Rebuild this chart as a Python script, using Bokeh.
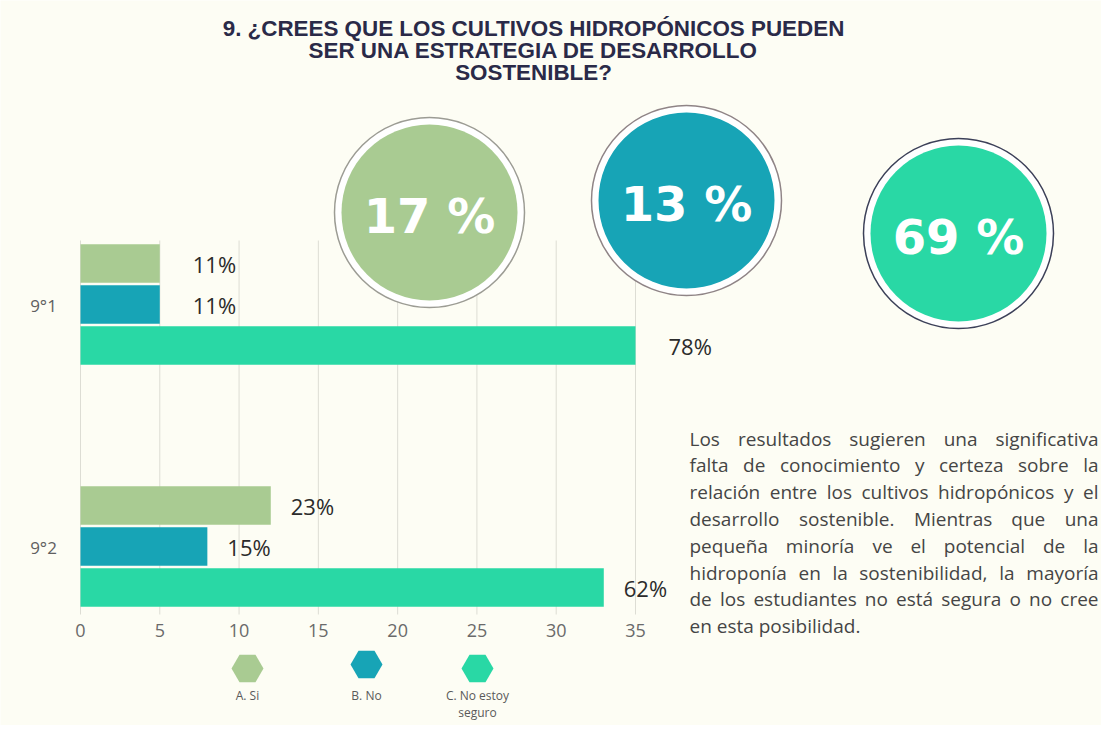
from bokeh.plotting import figure
from bokeh.models import Range1d, LinearAxis, FixedTicker, ColumnDataSource
from bokeh.core.properties import value
from bokeh.embed import file_html
from bokeh.resources import INLINE

# ---------------- data ----------------
groups = ["9°1", "9°2"]
series = ["A. Si", "B. No", "C. No estoy\nseguro"]
si_counts = [5, 12]
no_counts = [5, 8]
unsure_counts = [35, 33]
si_labels = ["11%", "23%"]
no_labels = ["11%", "15%"]
unsure_labels = ["78%", "62%"]
overall_pct = [17, 13, 69]
x_ticks = [0, 5, 10, 15, 20, 25, 30, 35]
title_lines = [
    "9. ¿CREES QUE LOS CULTIVOS HIDROPÓNICOS PUEDEN",
    "SER UNA ESTRATEGIA DE DESARROLLO",
    "SOSTENIBLE?",
]
paragraph_lines = [
    "Los resultados sugieren una significativa",
    "falta de conocimiento y certeza sobre la",
    "relación entre los cultivos hidropónicos y el",
    "desarrollo sostenible. Mientras que una",
    "pequeña minoría ve el potencial de la",
    "hidroponía en la sostenibilidad, la mayoría",
    "de los estudiantes no está segura o no cree",
    "en esta posibilidad.",
]

# ---------------- style ----------------
colors = ["#A9CB92", "#17A4B6", "#29D8A5"]
bg = "#FDFDF4"
W, H = 1101, 725

p = figure(width=W, height=H, x_range=Range1d(0, W), y_range=Range1d(H, 0),
           output_backend="svg", toolbar_location=None, min_border=0,
           x_axis_type=None, y_axis_type=None,
           background_fill_color=bg, border_fill_color=bg, outline_line_color=None)

# value scale for the bars: 0 -> 80px, 35 -> 635px
px0, px35 = 80.0, 635.0
k = (px35 - px0) / 35.0
p.extra_x_ranges = {"val": Range1d(-px0 / k, (W - px0) / k)}

chart_top, chart_bottom = 240, 614
p.segment(x0=x_ticks, y0=[chart_top] * len(x_ticks), x1=x_ticks, y1=[chart_bottom] * len(x_ticks),
          x_range_name="val", line_color="#DDDDD4", line_width=1)

axis = LinearAxis(x_range_name="val", fixed_location=chart_bottom,
                  ticker=FixedTicker(ticks=x_ticks))
axis.axis_line_color = None
axis.major_tick_line_color = None
axis.minor_tick_line_color = None
axis.major_label_text_font = "Open Sans"
axis.major_label_text_font_size = "18px"
axis.major_label_text_color = "#6a6a6a"
axis.major_label_standoff = 3
p.add_layout(axis, "below")

# bars
group_center = [304.0, 546.0]
step, bar_h = 41.0, 38.5
label_gap = [33, 20]
all_counts = [si_counts, no_counts, unsure_counts]
all_labels = [si_labels, no_labels, unsure_labels]
for j in range(3):
    ys = [group_center[i] + (j - 1) * step for i in range(len(groups))]
    p.hbar(y=ys, left=0, right=all_counts[j], height=bar_h, x_range_name="val",
           fill_color=colors[j], line_color=None)
    src = ColumnDataSource(dict(x=all_counts[j], y=ys, t=all_labels[j],
                                off=[label_gap[i] for i in range(len(groups))]))
    p.text(x="x", y="y", text="t", x_offset="off", source=src, x_range_name="val",
           text_font=value("Open Sans"), text_font_size="22px", text_color="#2b2b2b",
           text_align="left", text_baseline="middle")

# category labels
p.text(x=[43] * len(groups), y=[c + 1 for c in group_center], text=groups,
       text_font=value("Open Sans"), text_font_size="17px", text_color="#606060",
       text_align="center", text_baseline="middle")

# title
p.text(x=[533] * 3, y=[28 + 22 * i for i in range(3)], text=title_lines,
       text_font=value("Liberation Sans"), text_font_style="bold", text_font_size="22.4px",
       text_color="#2A2A48", text_align="center", text_baseline="middle")

# circles
cx = [429, 686, 958]
cy = [212, 200, 233]
outline = ["#9c9c94", "#8f8486", "#3c4058"]
p.circle(x=cx, y=cy, radius=95, fill_color="white", line_color=outline, line_width=1.5)
p.circle(x=cx, y=cy, radius=88, fill_color=colors, line_color=None)
p.text(x=cx, y=[c + 3 for c in cy], text=[f"{v} %" for v in overall_pct],
       text_font=value("DejaVu Sans"), text_font_style="bold", text_font_size="48px",
       text_color="white", text_align="center", text_baseline="middle")

# paragraph, justified word by word (Open Sans advance widths, units per em 2048)
adv = {" ": 532, "a": 1139, "b": 1255, "c": 975, "d": 1255, "e": 1149, "f": 694, "g": 1122,
       "h": 1257, "i": 518, "j": 518, "k": 1075, "l": 518, "m": 1905, "n": 1257, "o": 1237,
       "p": 1255, "q": 1255, "r": 836, "s": 977, "t": 723, "u": 1257, "v": 1026, "w": 1593,
       "x": 1073, "y": 1028, "z": 977, "á": 1139, "é": 1149, "í": 518, "ó": 1237, "ú": 1257,
       "ñ": 1257, "L": 1096, "M": 1806, ".": 545, ",": 545}
fs = 19.0
def tw(s):
    return sum(adv.get(ch, 1150) for ch in s) / 2048.0 * fs

left, right = 689.0, 1098.0
line0, lstep = 438.0, 26.8
wx, wy, wt, wa = [], [], [], []
for li, line in enumerate(paragraph_lines):
    words = line.split(" ")
    y = line0 + li * lstep
    last = li == len(paragraph_lines) - 1
    widths = [tw(w) for w in words]
    gap = tw(" ") if last else (right - left - sum(widths)) / (len(words) - 1)
    x = left
    for wi, w in enumerate(words):
        if not last and wi == len(words) - 1:
            wx.append(right); wa.append("right")
        else:
            wx.append(x); wa.append("left")
        wy.append(y); wt.append(w)
        x += widths[wi] + gap
psrc = ColumnDataSource(dict(x=wx, y=wy, t=wt, a=wa))
p.text(x="x", y="y", text="t", text_align="a", source=psrc,
       text_font=value("Open Sans"), text_font_size=f"{fs}px",
       text_color="#454545", text_baseline="middle")

# legend
lx = [247, 366, 477]
ly = [668, 664, 668]
p.scatter(x=lx, y=ly, marker="hex", size=32, fill_color=colors, line_color=None)
p.text(x=lx, y=[686] * 3, text=series, text_font=value("Open Sans"), text_font_size="12px",
       text_color="#5a5a5a", text_align="center", text_baseline="top",
       text_line_height=1.05)

open("out.html", "w").write(file_html(p, INLINE))
